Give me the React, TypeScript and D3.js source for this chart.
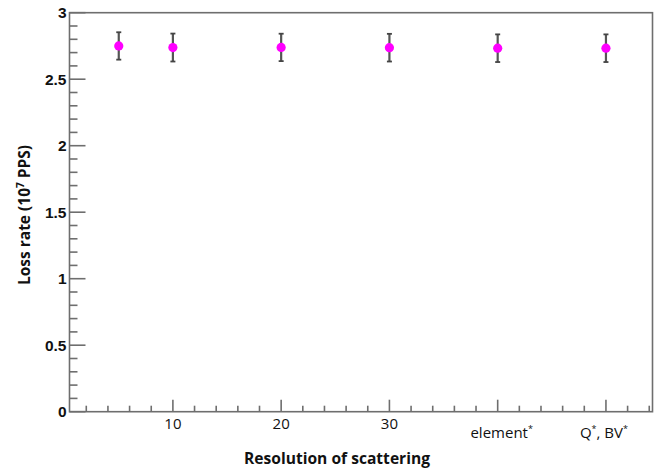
import React from "react";
import * as d3 from "d3";

const xPositions = [5, 10, 20, 30, 40, 50];
const lossRates = [2.75, 2.738, 2.739, 2.737, 2.733, 2.733];
const errors = [0.103, 0.105, 0.103, 0.104, 0.104, 0.104];
const xTickValues = [10, 20, 30, 40, 50];
const xTickLabels = ["10", "20", "30", "element", "Q"];
const yTickValues = [0, 0.5, 1, 1.5, 2, 2.5, 3];
const yTickLabels = ["0", "0.5", "1", "1.5", "2", "2.5", "3"];

const W = 657;
const H = 470;
const left = 69.5;
const right = 652.5;
const top = 12.7;
const bottom = 411.7;

export default function App() {
  const x = d3.scaleLinear().domain([0.45, 54.3]).range([left, right]);
  const y = d3.scaleLinear().domain([0, 3]).range([bottom, top]);
  const xMinor = d3.range(2, 55, 2).filter((v) => v % 10 !== 0);
  const yMinor = d3.range(0, 3.001, 0.1).map((v) => Math.round(v * 10) / 10).filter((v) => Math.abs(v * 2 - Math.round(v * 2)) > 1e-6);
  const axisColor = "#6e6e6e";
  const tickFont = "'Liberation Sans', Arial, sans-serif";
  const labelFont = "'Open Sans', 'Noto Sans', sans-serif";
  return (
    <svg width={W} height={H} style={{ position: "absolute", left: 0, top: 0, background: "#fff" }}>
      <rect x={0} y={0} width={W} height={H} fill="#fff" />
      {/* frame */}
      <rect x={left} y={top} width={right - left} height={bottom - top} fill="none" stroke={axisColor} strokeWidth={1.6} />
      {/* y ticks */}
      {yTickValues.map((v) => (
        <line key={"ym" + v} x1={left} x2={left + 16} y1={y(v)} y2={y(v)} stroke={axisColor} strokeWidth={1.6} />
      ))}
      {yMinor.map((v) => (
        <line key={"yn" + v} x1={left} x2={left + 8} y1={y(v)} y2={y(v)} stroke={axisColor} strokeWidth={1.6} />
      ))}
      {yTickValues.map((v, i) => (
        <text key={"yl" + v} x={left - 3} y={y(v) + 5.5} textAnchor="end" fontFamily={tickFont} fontWeight="bold" fontSize={15.5} fill="#111">
          {yTickLabels[i]}
        </text>
      ))}
      {/* x ticks */}
      {xTickValues.map((v) => (
        <line key={"xm" + v} x1={x(v)} x2={x(v)} y1={bottom} y2={bottom - 12} stroke={axisColor} strokeWidth={1.6} />
      ))}
      {xMinor.map((v) => (
        <line key={"xn" + v} x1={x(v)} x2={x(v)} y1={bottom} y2={bottom - 6} stroke={axisColor} strokeWidth={1.6} />
      ))}
      {xTickValues.slice(0, 3).map((v, i) => (
        <text key={"xl" + v} x={x(v)} y={428.5} textAnchor="middle" fontFamily={labelFont} fontSize={15} fill="#111">
          {xTickLabels[i]}
        </text>
      ))}
      <text x={x(40) + 4} y={437.5} textAnchor="middle" fontFamily={labelFont} fontSize={15} fill="#111">
        {xTickLabels[3]}
        <tspan dy={-6} fontSize={9}>*</tspan>
      </text>
      <text x={x(50) - 2} y={437.5} textAnchor="middle" fontFamily={labelFont} fontSize={15} fill="#111">
        {xTickLabels[4]}
        <tspan dy={-6} fontSize={9}>*</tspan>
        <tspan dy={6}>, BV</tspan>
        <tspan dy={-6} fontSize={9}>*</tspan>
      </text>
      {/* axis titles */}
      <text x={337} y={464} textAnchor="middle" fontFamily={labelFont} fontWeight="bold" fontSize={15.5} textLength={186} lengthAdjust="spacingAndGlyphs" fill="#111">
        Resolution of scattering
      </text>
      <text transform={`translate(30,215) rotate(-90)`} textAnchor="middle" fontFamily={labelFont} fontWeight="bold" fontSize={15.5} fill="#111">
        Loss rate (10<tspan dy={-6} fontSize={10}>7</tspan><tspan dy={6}> PPS)</tspan>
      </text>
      {/* error bars & points */}
      {xPositions.map((xv, i) => {
        const cx = x(xv);
        const y1 = y(lossRates[i] + errors[i]);
        const y2 = y(lossRates[i] - errors[i]);
        return (
          <g key={"p" + i}>
            <line x1={cx} x2={cx} y1={y1} y2={y2} stroke="#555" strokeWidth={2.2} />
            <line x1={cx - 2.5} x2={cx + 2.5} y1={y1} y2={y1} stroke="#444" strokeWidth={1.8} />
            <line x1={cx - 2.5} x2={cx + 2.5} y1={y2} y2={y2} stroke="#444" strokeWidth={1.8} />
            <circle cx={cx} cy={y(lossRates[i])} r={4.6} fill="#ff00ff" />
          </g>
        );
      })}
    </svg>
  );
}
